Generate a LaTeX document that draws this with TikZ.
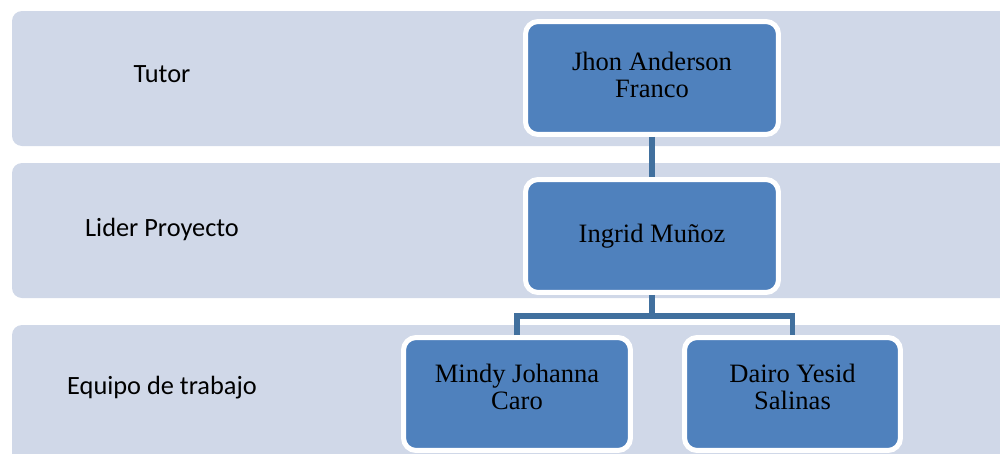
\documentclass[tikz,border=0pt]{standalone}
\usepackage{fontspec}
\setmainfont{Liberation Serif}
\newfontfamily\labelfont{Carlito}
\definecolor{bandfill}{HTML}{D0D8E8}
\definecolor{nodeblue}{HTML}{4F81BD}
\definecolor{linkblue}{HTML}{41709E}
\newcommand{\lowstrut}[1]{\rule[-#1]{0pt}{#1}}
\begin{document}
\begin{tikzpicture}[x=0.02cm,y=-0.02cm,
  bandbox/.style={fill=bandfill, draw=none, rounded corners=0.2cm},
  lbl/.style={font=\labelfont\fontsize{15pt}{17pt}\selectfont, inner sep=0pt, anchor=base},
  person/.style={rectangle, rounded corners=0.25cm, fill=nodeblue, draw=white,
    line width=0.1cm, minimum height=2.26cm, inner sep=2pt, align=center,
    font=\fontsize{15.1pt}{15.3pt}\selectfont},
  link/.style={draw=linkblue, line width=0.11cm}]
  \useasboundingbox (0,0) rectangle (1000,453);
  \clip (0,0) rectangle (1000,453);
  % bands
  \fill[bandbox] (12,11) rectangle (1020,146);
  \fill[bandbox] (12,163) rectangle (1020,298);
  \fill[bandbox] (12,325) rectangle (1020,480);
  % level labels
  \node[lbl] (ltutor) at (162,82) {Tutor};
  \node[lbl] (llider) at (162,236) {Lider Proyecto};
  \node[lbl] (lequipo) at (162,394) {Equipo de trabajo};
  % people
  \node[person, minimum width=5.06cm] (tutor) at (652,78) {Jhon Anderson\\Franco\lowstrut{4pt}};
  \node[person, minimum width=5.06cm] (lider) at (652,236) {Ingrid Muñoz\lowstrut{2pt}};
  \node[person, minimum width=4.54cm] (mindy) at (517,394) {Mindy Johanna\\Caro\lowstrut{8pt}};
  \node[person, minimum width=4.32cm] (dairo) at (792.5,394) {Dairo Yesid\\Salinas\lowstrut{8pt}};
  % connectors
  \coordinate (bus) at (652,316);
  \draw[link] (tutor.south) -- (lider.north);
  \draw[link] (lider.south) -- (bus);
  \draw[link] (mindy.north) |- (bus) -| (dairo.north);
\end{tikzpicture}
\end{document}
